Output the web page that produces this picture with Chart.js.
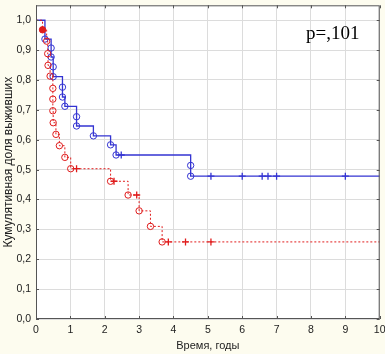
<!DOCTYPE html>
<html>
<head>
<meta charset="utf-8">
<script src="https://cdn.jsdelivr.net/npm/chart.js@4"></script>
<style>
  html, body { margin: 0; padding: 0; background: #fdfcef; }
  #wrap { width: 385px; height: 354px; }
</style>
</head>
<body>
<div id="wrap"><canvas id="kmChart" width="385" height="354"></canvas></div>
<script>
// ---------------- data ----------------
// group 1 (blue, solid)
const blueTimes = [0, 0.26, 0.44, 0.44, 0.50, 0.50, 0.77, 0.77, 0.84, 1.18, 1.18, 1.67, 2.17, 2.33, 4.50, 4.50];
const blueSurv  = [1.0, 0.937, 0.907, 0.877, 0.844, 0.811, 0.776, 0.743, 0.712, 0.677, 0.646, 0.613, 0.583, 0.549, 0.514, 0.478];
const blueCensored = [2.48, 5.09, 6.0, 6.58, 6.75, 7.0, 9.0];

// group 2 (red, dotted)
const redTimes = [0, 0.19, 0.31, 0.34, 0.35, 0.41, 0.49, 0.49, 0.49, 0.50, 0.58, 0.68, 0.84, 1.01, 2.17, 2.68, 3.0, 3.33, 3.67];
const redSurv  = [1.0, 0.968, 0.930, 0.888, 0.849, 0.813, 0.772, 0.736, 0.697, 0.657, 0.618, 0.580, 0.541, 0.503, 0.461, 0.415, 0.362, 0.310, 0.258];
const redCensored = [1.18, 2.27, 2.93, 3.85, 4.35, 5.09];

const xTicks = [0, 1, 2, 3, 4, 5, 6, 7, 8, 9, 10];
const yTicks = [0, 0.1, 0.2, 0.3, 0.4, 0.5, 0.6, 0.7, 0.8, 0.9, 1.0];
const maxTime = 10;
const pLabel = "p=,101";

// ---------------- helpers ----------------
function stepPoints(times, surv) {
  const pts = times.map((t, i) => ({ x: t, y: surv[i] }));
  pts.push({ x: maxTime, y: surv[surv.length - 1] }); // curve runs on to the end
  return pts;
}

function survAt(times, surv, t) {
  let s = surv[0];
  for (let i = 0; i < times.length; i++) {
    if (times[i] <= t) s = surv[i];
  }
  return s;
}

function censorPoints(cens, times, surv) {
  return cens.map(t => ({ x: t, y: survAt(times, surv, t) }));
}

const BLUE = "#3434d2";
const RED = "#e01c1c";
const FONT = "'Liberation Sans', Arial, sans-serif";

// event markers only on real events, not on start/end points
const markerRadius = n => ctx => (ctx.dataIndex === 0 || ctx.dataIndex === n) ? 0 : 3.2;

//----------------------------------------------PLUGIN: frame, background, p-value-----------------------------
const framePlugin = {
  id: "frame",
  beforeDraw(chart) {
    const { ctx, chartArea: a } = chart;
    ctx.save();
    ctx.fillStyle = "#fdfcef";
    ctx.fillRect(0, 0, chart.width, chart.height);
    ctx.fillStyle = "#ffffff";
    ctx.fillRect(a.left, a.top, a.right - a.left, a.bottom - a.top);
    ctx.restore();
  },
  afterDraw(chart) {
    const { ctx, chartArea: a, scales } = chart;
    ctx.save();
    ctx.strokeStyle = "#555555";
    ctx.lineWidth = 1;
    ctx.strokeRect(a.left + 0.5, a.top + 0.5, a.right - a.left - 1, a.bottom - a.top - 1);

    // small inward tick marks
    ctx.beginPath();
    xTicks.forEach(v => {
      const x = Math.round(scales.x.getPixelForValue(v)) + 0.5;
      ctx.moveTo(x, a.bottom); ctx.lineTo(x, a.bottom - 3);
      ctx.moveTo(x, a.top); ctx.lineTo(x, a.top + 3);
    });
    yTicks.forEach(v => {
      const y = Math.round(scales.y.getPixelForValue(v)) + 0.5;
      ctx.moveTo(a.left, y); ctx.lineTo(a.left + 3, y);
      ctx.moveTo(a.right, y); ctx.lineTo(a.right - 3, y);
    });
    ctx.stroke();

    // p-value
    ctx.fillStyle = "#000";
    ctx.font = "19px 'Liberation Serif', 'Times New Roman', serif";
    ctx.textBaseline = "alphabetic";
    ctx.textAlign = "left";
    ctx.fillText(pLabel, 306, 39);
    ctx.restore();
  },
};

//----------------------------------------------CHART---------------------------------------------------
const kmCTX = document.getElementById("kmChart");

const blueCurve = stepPoints(blueTimes, blueSurv);
const redCurve = stepPoints(redTimes, redSurv);

const configKM = {
  type: "line",
  data: {
    datasets: [
      {
        data: redCurve,
        stepped: true,
        borderColor: RED,
        borderWidth: 1,
        borderDash: [2, 2],
        fill: false,
        pointStyle: "circle",
        pointRadius: markerRadius(redCurve.length - 1),
        pointBorderColor: RED,
        pointBorderWidth: 1,
        pointBackgroundColor: ctx => (ctx.dataIndex === 1 ? RED : "rgba(255,255,255,0)"),
      },
      {
        data: censorPoints(redCensored, redTimes, redSurv),
        showLine: false,
        pointStyle: "cross",
        pointRadius: 3.5,
        pointBorderColor: RED,
        pointBorderWidth: 1.3,
      },
      {
        data: blueCurve,
        stepped: true,
        borderColor: BLUE,
        borderWidth: 1.3,
        fill: false,
        pointStyle: "circle",
        pointRadius: markerRadius(blueCurve.length - 1),
        pointBorderColor: BLUE,
        pointBorderWidth: 1,
        pointBackgroundColor: "rgba(255,255,255,0)",
      },
      {
        data: censorPoints(blueCensored, blueTimes, blueSurv),
        showLine: false,
        pointStyle: "cross",
        pointRadius: 3.5,
        pointBorderColor: BLUE,
        pointBorderWidth: 1.3,
      },
    ],
  },
  options: {
    responsive: false,
    animation: false,
    layout: { padding: { top: 1, right: 5, left: 0, bottom: 0 } },
    plugins: {
      legend: { display: false },
      tooltip: { enabled: false },
    },
    scales: {
      x: {
        type: "linear",
        min: 0,
        max: maxTime,
        afterBuildTicks: s => { s.ticks = xTicks.map(v => ({ value: v })); },
        afterFit: s => { s.height = 35; s.paddingLeft = 0; s.paddingRight = 0; },
        grid: { color: "#dcdcdc", drawTicks: false },
        border: { display: false },
        ticks: {
          font: { family: FONT, size: 10.5 },
          color: "#222",
          padding: 5,
          maxRotation: 0,
        },
        title: {
          display: true,
          text: "Время, годы",
          font: { family: FONT, size: 11 },
          color: "#222",
          padding: { top: 2, bottom: 1 },
        },
      },
      y: {
        min: 0,
        max: 1.05,
        afterBuildTicks: s => { s.ticks = yTicks.map(v => ({ value: v })); },
        afterFit: s => { s.width = 36; s.paddingTop = 0; s.paddingBottom = 0; },
        grid: { color: "#dcdcdc", drawTicks: false },
        border: { display: false },
        ticks: {
          font: { family: FONT, size: 10.5 },
          color: "#222",
          padding: 5,
          callback: v => v.toFixed(1).replace(".", ","),
        },
        title: {
          display: true,
          text: "Кумулятивная доля выживших",
          font: { family: FONT, size: 12 },
          color: "#222",
          padding: { top: 1, bottom: 0 },
        },
      },
    },
  },
  plugins: [framePlugin],
};

const kmChart = new Chart(kmCTX, configKM);
</script>
</body>
</html>
